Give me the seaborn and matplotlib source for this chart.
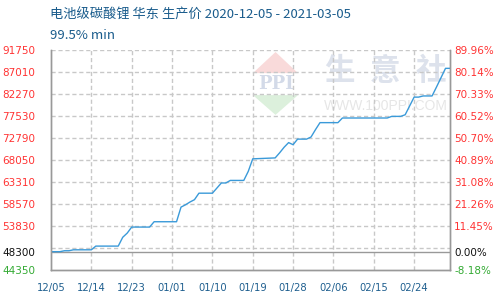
import matplotlib
matplotlib.use("Agg")
import matplotlib.pyplot as plt
from matplotlib.patches import Polygon
import seaborn as sns
import pandas as pd

dates = ["2020-12-05", "2020-12-07", "2020-12-08", "2020-12-09", "2020-12-10",
         "2020-12-14", "2020-12-15", "2020-12-20", "2020-12-21", "2020-12-22",
         "2020-12-23", "2020-12-27", "2020-12-28", "2021-01-02", "2021-01-03",
         "2021-01-04", "2021-01-05", "2021-01-06", "2021-01-07", "2021-01-10",
         "2021-01-12", "2021-01-13", "2021-01-14", "2021-01-17", "2021-01-18",
         "2021-01-19", "2021-01-24", "2021-01-25", "2021-01-26", "2021-01-27",
         "2021-01-28", "2021-01-29", "2021-01-31", "2021-02-01", "2021-02-02",
         "2021-02-03", "2021-02-07", "2021-02-08", "2021-02-18", "2021-02-19",
         "2021-02-21", "2021-02-22", "2021-02-23", "2021-02-24", "2021-02-25",
         "2021-02-26", "2021-02-28", "2021-03-01", "2021-03-02", "2021-03-03",
         "2021-03-04"]
prices = [48300, 48300, 48500, 48500, 48700,
          48700, 49500, 49500, 51400, 52300,
          53600, 53600, 54750, 54750, 57900,
          58400, 59000, 59500, 60900, 60900,
          63100, 63100, 63650, 63650, 65600,
          68300, 68500, 69600, 70800, 71800,
          71350, 72550, 72550, 73000, 74600,
          76100, 76100, 77100, 77100, 77450,
          77450, 77800, 79700, 81600, 81600,
          81850, 81850, 83800, 85800, 87800,
          87800]

base_price = 48300
left_ticks = [91750, 87010, 82270, 77530, 72790, 68050, 63310, 58570, 53830, 48300, 44350]
left_labels = ["91750", "87010", "82270", "77530", "72790", "68050", "63310", "58570", "53830", "48300", "44350"]
right_labels = ["89.96%", "80.14%", "70.33%", "60.52%", "50.70%", "40.89%", "31.08%", "21.26%", "11.45%", "0.00%", "-8.18%"]
grid_levels = [91750, 87010, 82270, 77530, 72790, 68050, 63310, 58570, 53830, 49090]
x_ticks = ["2020-12-05", "2020-12-14", "2020-12-23", "2021-01-01", "2021-01-10",
           "2021-01-19", "2021-01-28", "2021-02-06", "2021-02-15", "2021-02-24"]
x_tick_labels = ["12/05", "12/14", "12/23", "01/01", "01/10", "01/19", "01/28", "02/06", "02/15", "02/24"]

title1 = "电池级碳酸锂 华东 生产价 2020-12-05 - 2021-03-05"
title2 = "99.5% min"
watermark_chars = ["生", "意", "社"]

sns.set_theme(style="white")
plt.rcParams['font.family'] = ['Noto Sans CJK SC', 'DejaVu Sans']

df = pd.DataFrame({"date": pd.to_datetime(dates), "price": prices})

fig = plt.figure(figsize=(5, 3), dpi=100)
ax = fig.add_axes([0.102, 0.1, 0.798, 0.7333])

# watermark
ax.add_patch(Polygon([[0.5627, 0.991], [0.619, 0.895], [0.506, 0.895]], closed=True,
                     transform=ax.transAxes, facecolor="#f9dada", edgecolor="none", zorder=0))
ax.add_patch(Polygon([[0.506, 0.795], [0.619, 0.795], [0.5627, 0.705]], closed=True,
                     transform=ax.transAxes, facecolor="#dcf0dc", edgecolor="none", zorder=0))
ax.text(0.5627, 0.845, "PPI", transform=ax.transAxes, ha="center", va="center",
        fontsize=13, color="#d3dae8", fontweight="bold", family="DejaVu Serif", zorder=0)
for ch, xc in zip(watermark_chars, [0.724, 0.837, 0.953]):
    ax.text(xc, 0.905, ch, transform=ax.transAxes, ha="center", va="center",
            fontsize=22, color="#dde2ec", fontweight="bold", zorder=0)
ax.text(0.84, 0.745, "WWW.100PPI.COM", transform=ax.transAxes, ha="center", va="center",
        fontsize=10, color="#e6e6e6", family="Liberation Sans", zorder=0)

sns.lineplot(data=df, x="date", y="price", ax=ax, color="#3a9ad9", linewidth=1.0, zorder=5)

ax.set_ylim(44350, 91750)
ax.set_xlim(pd.Timestamp(dates[0]), pd.Timestamp(dates[-1]))

for g in grid_levels:
    ax.axhline(g, color="#c8c8c8", linestyle=(0, (3, 2)), linewidth=1.0, zorder=1)
for t in x_ticks[1:]:
    ax.axvline(pd.Timestamp(t), color="#c8c8c8", linestyle=(0, (3, 2)), linewidth=1.0, zorder=1)
ax.axhline(base_price, color="#999999", linewidth=1.0, zorder=2)

ax.set_yticks(left_ticks)
ax.set_yticklabels(left_labels, family="DejaVu Sans", fontsize=7.5)
ax.set_xticks(pd.to_datetime(x_ticks))
ax.set_xticklabels(x_tick_labels, family="DejaVu Sans", fontsize=7.2, color="#1f5f8f")
ax.tick_params(axis="y", length=0, pad=11.5)
ax.tick_params(axis="x", length=0, pad=9)
for lbl in ax.get_yticklabels():
    txt = lbl.get_text()
    lbl.set_color("#111111" if txt == "48300" else ("#33aa33" if txt == "44350" else "#ff3333"))

ax2 = ax.twinx()
ax2.set_ylim(44350, 91750)
ax2.set_yticks(left_ticks)
ax2.set_yticklabels(right_labels, family="DejaVu Sans", fontsize=7.5)
ax2.tick_params(axis="y", length=0, pad=3)
for lbl in ax2.get_yticklabels():
    txt = lbl.get_text()
    lbl.set_color("#111111" if txt == "0.00%" else ("#33aa33" if txt == "-8.18%" else "#ff3333"))

for a in (ax, ax2):
    a.spines["top"].set_visible(False)
    for side in ("left", "right", "bottom"):
        a.spines[side].set_color("#999999")
        a.spines[side].set_linewidth(1.0)
ax.set_xlabel("")
ax.set_ylabel("")

fig.text(0.1, 0.95, title1, ha="left", va="center", fontsize=9.5, color="#1a5c8c")
fig.text(0.1, 0.883, title2, ha="left", va="center", fontsize=9.5, color="#1a5c8c")

fig.savefig("out.png", dpi=100)
